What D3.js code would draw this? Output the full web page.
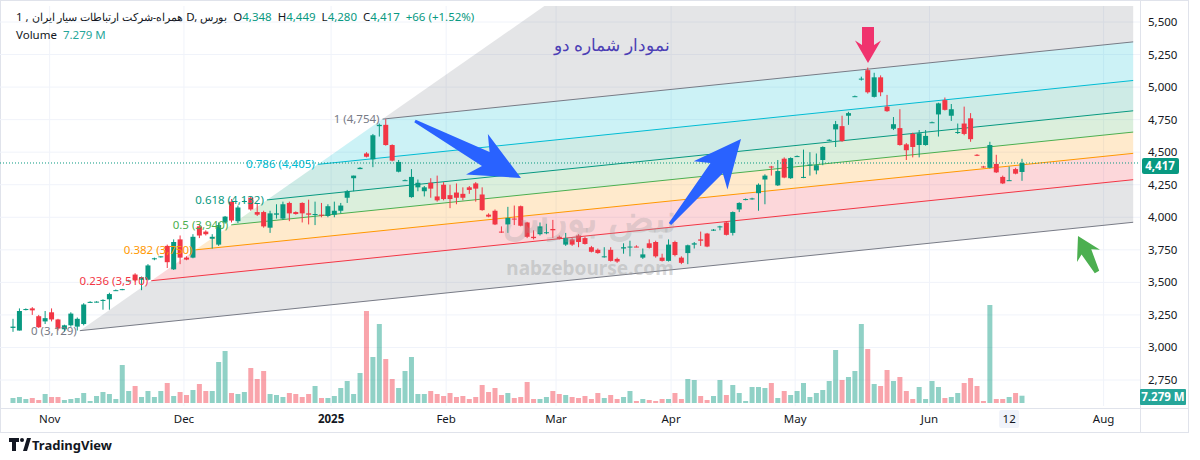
<!DOCTYPE html>
<html><head><meta charset="utf-8">
<script src="https://cdn.jsdelivr.net/npm/d3@7"></script>
<style>body{margin:0;background:#fff;font-family:"Noto Sans",Roboto,sans-serif}svg text{font-family:"Noto Sans",Roboto,sans-serif}</style>
</head><body><svg id="c" width="1200" height="460"></svg>
<script>
// ---- data ----
const candles = [
[3150,3220,3120,3160],[3130,3300,3130,3280],[3290,3300,3285,3295],[3300,3310,3250,3285],[3240,3250,3150,3155],
[3200,3280,3180,3225],[3270,3300,3200,3215],[3215,3220,3130,3145],[3140,3175,3120,3170],[3170,3270,3160,3260],
[3160,3230,3130,3220],[3180,3340,3170,3330],[3350,3355,3345,3350],[3350,3355,3345,3352],[3360,3370,3290,3365],
[3370,3420,3290,3410],[3440,3445,3435,3440],[3445,3450,3440,3448],[3510,3520,3505,3515],[3560,3570,3505,3515],
[3520,3545,3440,3540],[3520,3640,3515,3630],[3680,3690,3670,3685],[3695,3700,3690,3700],[3780,3790,3610,3655],
[3600,3830,3595,3810],[3830,3860,3640,3690],[3690,3700,3670,3675],[3690,3870,3685,3850],[3930,3945,3840,3860],
[3890,3900,3860,3870],[3835,3870,3760,3850],[3790,3960,3780,3940],[3960,4010,3950,4005],[4120,4140,3960,3975],
[3970,4090,3955,4075],[4120,4135,4115,4125],[4150,4160,4050,4060],[4040,4110,4010,4020],[4040,4050,3920,3930],
[3920,4050,3880,4030],[4020,4100,3990,4030],[3990,4120,3980,4100],[4110,4120,3970,4030],[4040,4045,4020,4025],
[4110,4115,3960,4030],[4030,4135,3945,4020],[4020,4120,3940,4025],[4020,4110,4000,4015],[4010,4100,4000,4085],
[4020,4120,4000,4050],[4050,4110,4030,4090],
[4150,4210,4110,4200],[4300,4320,4200,4320],[4370,4385,4370,4380],[4490,4500,4460,4465],[4445,4640,4385,4630],
[4700,4720,4620,4710],[4710,4754,4550,4555],[4555,4560,4430,4435],[4350,4440,4345,4425],[4285,4290,4280,4285],
[4155,4370,4150,4310],[4230,4290,4200,4265],[4200,4240,4160,4230],[4265,4300,4150,4220],[4160,4320,4120,4130],
[4250,4270,4130,4140],[4170,4250,4070,4140],[4190,4260,4100,4150],[4180,4230,4130,4150],[4230,4240,4180,4210],
[4260,4270,4120,4220],[4175,4230,4050,4055],[4020,4030,4000,4005],[4050,4060,3940,3945],[3890,3930,3880,3885],
[3945,4080,3880,3995],[3990,4090,3940,3985],[4085,4090,3930,3935],[3960,3965,3840,3850],[3850,3900,3830,3840],
[3870,3960,3860,3930],[3880,3950,3870,3885],[3910,3980,3840,3900],[3850,3860,3830,3835],[3790,3880,3780,3840],
[3830,3840,3780,3790],[3860,3870,3770,3810],[3840,3850,3790,3795],[3770,3780,3730,3735],[3750,3760,3720,3725],
[3700,3770,3690,3700],[3750,3770,3660,3665],[3680,3690,3650,3660],[3760,3800,3720,3770],[3770,3820,3700,3775],
[3775,3785,3770,3772],[3690,3760,3680,3715],[3800,3830,3760,3765],[3810,3820,3690,3700],[3690,3720,3660,3665],
[3665,3830,3660,3790],[3810,3820,3700,3710],
[3690,3700,3640,3650],[3725,3790,3640,3785],[3790,3810,3760,3800],[3830,3890,3780,3820],[3875,3880,3770,3775],
[3900,3910,3895,3905],[3925,3935,3900,3930],[3960,3970,3860,3865],[3880,4045,3860,4040],[4060,4115,4040,4110],
[4135,4145,4130,4140],[4140,4150,4135,4145],[4185,4260,4050,4250],[4290,4330,4100,4320],[4390,4395,4320,4385],
[4245,4440,4240,4355],[4450,4460,4300,4305],[4300,4460,4295,4455],[4470,4475,4465,4470],[4310,4520,4300,4310],
[4400,4500,4320,4405],[4360,4490,4330,4400],[4440,4545,4400,4540],[4590,4600,4585,4595],[4675,4740,4540,4715],
[4700,4780,4580,4585],[4780,4810,4710,4800],[4930,4935,4925,4930],[5060,5080,5050,5065],[5130,5150,4950,4960],
[4925,5110,4920,5075],[5075,5090,4930,4960],[4850,4940,4810,4815],[4680,4770,4670,4715],[4685,4830,4550,4555],
[4560,4570,4440,4515],[4640,4650,4460,4540],[4555,4670,4460,4645],[4555,4670,4550,4625],[4730,4735,4725,4730],
[4790,4880,4620,4875],[4900,4920,4820,4825],[4780,4870,4740,4830],[4650,4720,4640,4655],[4720,4850,4630,4640],
[4760,4800,4580,4600],[4480,4485,4470,4475],[4390,4395,4380,4385],[4380,4580,4375,4555],[4410,4480,4340,4345],
[4310,4320,4255,4260],[4280,4390,4280,4285],[4370,4380,4330,4335],[4348,4449,4280,4417]
];
const volumes = [5,6,4,5,3,9,6,6,3,4,5,10,2,7,11,9,4,38,12,17,6,12,6,12,20,7,11,8,13,19,12,12,41,52,10,9,11,35,24,32,9,8,6,10,9,6,9,17,5,5,7,15,22,9,30,92,46,79,44,24,15,32,46,9,9,12,9,7,10,6,7,4,6,18,11,15,8,10,5,
6,21,4,4,6,12,9,8,6,5,7,4,10,5,8,4,6,12,2,4,3,2,4,4,10,4,24,23,7,3,7,23,8,18,10,2,16,16,15,20,5,12,8,12,20,6,10,13,22,53,23,26,32,79,54,19,17,33,22,26,12,4,16,4,22,16,5,6,10,20,25,17,2,98,4,4,6,10,7.279];
const priceTicks = [2750,3000,3250,3500,3750,4000,4250,4500,4750,5000,5250,5500];
const timeLabels = ["Nov","Dec","2025","Feb","Mar","Apr","May","Jun","12","Aug"];
const timeIdx = [5.7,26.6,49.5,67.4,84.5,102.4,121.7,142.6,155,169.7];
const fibLevels = [0,0.236,0.382,0.5,0.618,0.786,1,1.618];
const fibLabelPrices = [3129,3510,3750,3940,4132,4405,4754];
const fibColors = ["#787b86","#f23645","#ff9800","#4caf50","#089981","#00bcd4","#787b86","#787b86"];
const fibA = {i:10.4, p:3129}, fibB = {i:57.5, p:4754}, fibSlope = 5.08, fibEnd = 174.3;
const lastPrice = 4417, lastVol = "7.279 M";

// ---- scales ----
const svg = d3.select("#c");
const x = d3.scaleLinear().domain([0,157]).range([13,1022]);
const y = d3.scaleLinear().domain([2750,5500]).range([380,22]);
const yv = d3.scaleLinear().domain([0,100]).range([403,303]);
const fmt = d3.format(",");
const plotW = 1140;

svg.append("defs").append("clipPath").attr("id","clip").append("rect").attr("x",0).attr("y",6).attr("width",plotW).attr("height",400);
svg.append("rect").attr("x",0.5).attr("y",0.5).attr("width",1188).attr("height",432).attr("fill","none").attr("stroke","#e0e3eb");
svg.append("g").selectAll("line").data(priceTicks).join("line")
 .attr("x1",0).attr("x2",plotW).attr("y1",d=>y(d)).attr("y2",d=>y(d)).attr("stroke","#f0f3fa");
svg.append("g").selectAll("line").data(timeIdx.filter((d,i)=>timeLabels[i]!=="12")).join("line")
 .attr("x1",d=>x(d)).attr("x2",d=>x(d)).attr("y1",6).attr("y2",406).attr("stroke","#f0f3fa");

const g = svg.append("g").attr("clip-path","url(#clip)");
function pt(L, i){ const di = fibA.i + L*(fibB.i-fibA.i), dp = fibA.p + L*(fibB.p-fibA.p); return [x(i), y(dp + fibSlope*(i-di))]; }
function start(L){ return fibA.i + L*(fibB.i-fibA.i); }
for(let k=0;k<fibLevels.length-1;k++){
  const L1=fibLevels[k], L2=fibLevels[k+1];
  const poly=[pt(L1,start(L1)),pt(L1,fibEnd),pt(L2,fibEnd),pt(L2,start(L2))];
  g.append("polygon").attr("points",poly.map(p=>p.join(",")).join(" "))
   .attr("fill",fibColors[k]).attr("fill-opacity",0.2);
}
fibLevels.slice(0,7).forEach((L,k)=>{
  const a=pt(L,start(L)), b=pt(L,fibEnd);
  g.append("line").attr("x1",a[0]).attr("y1",a[1]).attr("x2",b[0]).attr("y2",b[1]).attr("stroke",fibColors[k]).attr("stroke-width",1);
  svg.append("text").attr("x",a[0]-3).attr("y",a[1]+4).attr("text-anchor","end").attr("font-size",11.5)
   .attr("fill",fibColors[k]).text(`${L} (${fmt(fibLabelPrices[k])})`);
});

// watermark
svg.append("text").attr("x",590).attr("y",232).attr("text-anchor","middle").attr("font-size",38).attr("font-weight","bold")
 .attr("fill","#9e9e9e").attr("fill-opacity",0.3).text("نبض بورس");
svg.append("text").attr("x",590).attr("y",275).attr("text-anchor","middle").attr("font-size",19).attr("font-weight","bold")
 .attr("fill","#9e9e9e").attr("fill-opacity",0.4).text("nabzebourse.com");

svg.append("line").attr("x1",0).attr("x2",plotW).attr("y1",y(lastPrice)).attr("y2",y(lastPrice))
 .attr("stroke","#089981").attr("stroke-dasharray","1,2").attr("stroke-width",1);

// volume
const bw = 5;
g.append("g").selectAll("rect").data(volumes).join("rect")
 .attr("x",(d,i)=>x(i)-bw/2).attr("width",bw).attr("y",d=>yv(d)).attr("height",d=>yv(0)-yv(d))
 .attr("fill",(d,i)=>candles[i][3]>=candles[i][0]?"#089981":"#f23645").attr("fill-opacity",0.45);

// candles
const cg = g.append("g").selectAll("g").data(candles).join("g");
cg.append("line").attr("x1",(d,i)=>x(i)).attr("x2",(d,i)=>x(i)).attr("y1",d=>y(d[1])).attr("y2",d=>y(d[2]))
 .attr("stroke",d=>d[3]>=d[0]?"#089981":"#f23645");
cg.append("rect").attr("x",(d,i)=>x(i)-2.5).attr("width",5)
 .attr("y",d=>y(Math.max(d[0],d[3]))).attr("height",d=>Math.max(1,Math.abs(y(d[0])-y(d[3]))))
 .attr("fill",d=>d[3]>=d[0]?"#089981":"#f23645");

// arrows
function arrow(x1,y1,x2,y2,tw,sw,hw,hl,color){
  const dx=x2-x1, dy=y2-y1, len=Math.hypot(dx,dy), ux=dx/len, uy=dy/len, nx=-uy, ny=ux;
  const bx=x2-ux*hl, by=y2-uy*hl;
  const p=[[x1+nx*tw/2,y1+ny*tw/2],[bx+nx*sw/2,by+ny*sw/2],[bx+nx*hw/2-ux*hl*0.25,by+ny*hw/2-uy*hl*0.25],[x2,y2],
           [bx-nx*hw/2-ux*hl*0.25,by-ny*hw/2-uy*hl*0.25],[bx-nx*sw/2,by-ny*sw/2],[x1-nx*tw/2,y1-ny*tw/2]];
  svg.append("polygon").attr("points",p.map(q=>q.join(",")).join(" ")).attr("fill",color);
}
arrow(415,121,521,178,3,16,46,40,"#2962ff");
arrow(670,224,741,139,3,16,44,38,"#2962ff");
arrow(868,27,868,63,12,12,26,18,"#f0336e");
arrow(1097,272,1078,236,5,11,26,18,"#4caf50");

svg.append("text").attr("x",612).attr("y",51).attr("text-anchor","middle").attr("font-size",17)
 .attr("fill","#4c3fb5").text("نمودار شماره دو");

// right axis
svg.append("line").attr("x1",plotW+0.5).attr("x2",plotW+0.5).attr("y1",0).attr("y2",432).attr("stroke","#e0e3eb");
svg.append("line").attr("x1",0).attr("x2",1188).attr("y1",408.5).attr("y2",408.5).attr("stroke","#e0e3eb");
svg.append("g").selectAll("text").data(priceTicks).join("text")
 .attr("x",1148).attr("y",d=>y(d)+4).attr("font-size",11.5).attr("fill","#131722").text(d=>fmt(d));
svg.append("rect").attr("x",1142).attr("y",y(lastPrice)-5).attr("width",37).attr("height",16).attr("rx",2).attr("fill","#089981");
svg.append("text").attr("x",1160).attr("y",y(lastPrice)+7).attr("text-anchor","middle").attr("font-size",11.5).attr("font-weight","bold").attr("fill","#fff").text(fmt(lastPrice));
svg.append("rect").attr("x",1140).attr("y",389).attr("width",46).attr("height",16).attr("rx",1).attr("fill","#26a69a");
svg.append("text").attr("x",1163).attr("y",401).attr("text-anchor","middle").attr("font-size",11.5).attr("font-weight","bold").attr("fill","#fff").text(lastVol);

// time axis
timeLabels.forEach((t,k)=>{
  const tx=x(timeIdx[k]);
  if(t==="12") svg.append("rect").attr("x",tx-10).attr("y",410).attr("width",20).attr("height",18).attr("rx",2).attr("fill","#f0f3fa");
  svg.append("text").attr("x",tx).attr("y",423).attr("text-anchor","middle").attr("font-size",11.5)
   .attr("font-weight",t==="2025"?"bold":"normal").attr("fill","#131722").text(t);
});

// header (laid out left to right)
const pieces = [["1 ,","#131722",11.5],["همراه-شرکت ارتباطات سیار ایران","#131722",10.5],["D,","#131722",11.5],["بورس","#131722",10.5]];
let hx = 16;
pieces.forEach(([t,c,fs])=>{
  const el = svg.append("text").attr("x",hx).attr("y",21).attr("font-size",fs).attr("fill",c).text(t);
  hx += el.node().getComputedTextLength() + 3;
});
hx += 3;
const ohlc=[["O","4,348"],["H","4,449"],["L","4,280"],["C","4,417"]];
const ht = svg.append("text").attr("x",hx).attr("y",21).attr("font-size",11.5);
ohlc.forEach(([k,v],i)=>{ ht.append("tspan").attr("fill","#131722").attr("dx",i?6:0).text(k); ht.append("tspan").attr("fill","#089981").text(v); });
ht.append("tspan").attr("fill","#089981").attr("dx",6).text("+66 (+1.52%)");
const vt = svg.append("text").attr("x",16).attr("y",39).attr("font-size",11.5);
vt.append("tspan").attr("fill","#131722").text("Volume");
vt.append("tspan").attr("fill","#26a69a").attr("dx",6).text("7.279 M");

// TradingView logo
svg.append("path").attr("d","M9 438h10v4h-3v9h-4v-9h-3z").attr("fill","#131722");
svg.append("circle").attr("cx",22).attr("cy",440).attr("r",2).attr("fill","#131722");
svg.append("path").attr("d","M23 451l4-13h4l-4 13z").attr("fill","#131722");
svg.append("text").attr("x",32).attr("y",450).attr("font-size",13).attr("font-weight","bold").attr("fill","#131722").text("TradingView");
</script></body></html>
